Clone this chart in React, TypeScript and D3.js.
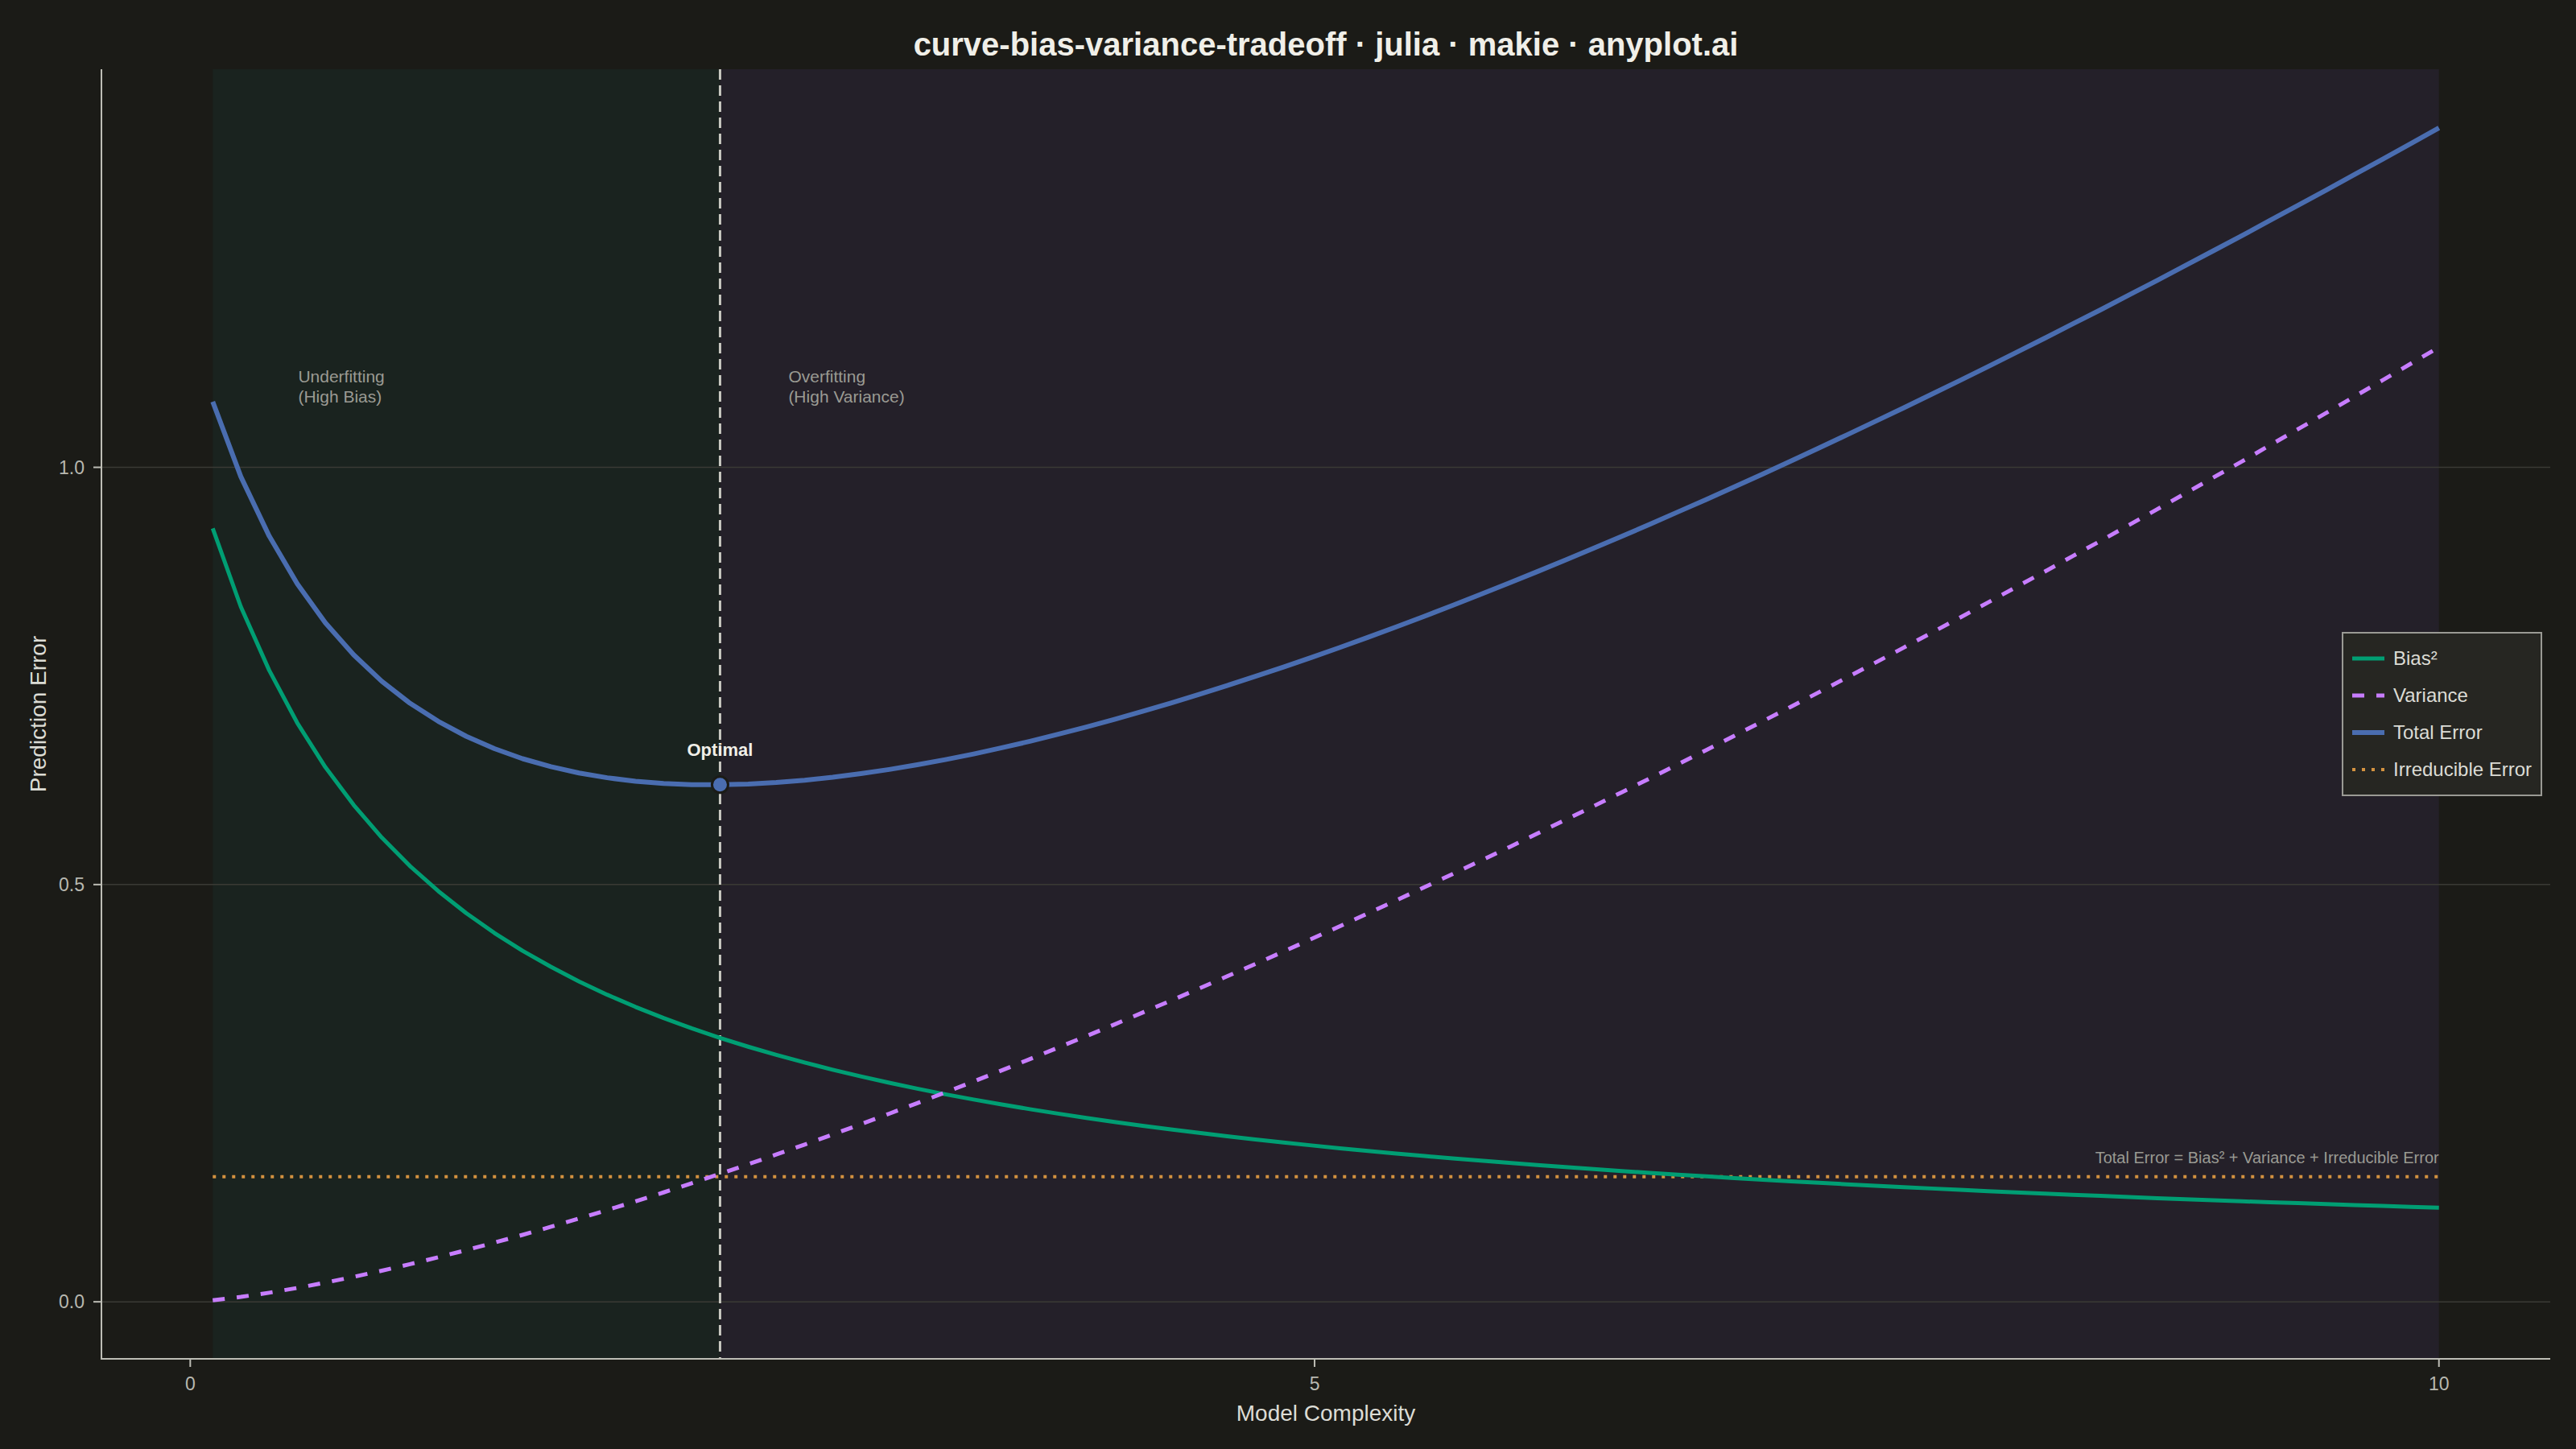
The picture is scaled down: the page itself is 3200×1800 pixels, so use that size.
import React from 'react';
import * as d3 from 'd3';

// model complexity samples (x) and the read-off error components
const complexity = [
  0.1, 0.225, 0.351, 0.476, 0.601, 0.727, 0.852, 0.977, 1.103, 1.228,
  1.353, 1.478, 1.604, 1.729, 1.854, 1.98, 2.105, 2.23, 2.356, 2.481,
  2.606, 2.732, 2.857, 2.982, 3.108, 3.233, 3.358, 3.484, 3.609, 3.734,
  3.859, 3.985, 4.11, 4.235, 4.361, 4.486, 4.611, 4.737, 4.862, 4.987,
  5.113, 5.238, 5.363, 5.489, 5.614, 5.739, 5.865, 5.99, 6.115, 6.241,
  6.366, 6.491, 6.616, 6.742, 6.867, 6.992, 7.118, 7.243, 7.368, 7.494,
  7.619, 7.744, 7.87, 7.995, 8.12, 8.246, 8.371, 8.496, 8.622, 8.747,
  8.872, 8.997, 9.123, 9.248, 9.373, 9.499, 9.624, 9.749, 9.875, 10.0,
];

const biasSq = [
  0.9268, 0.8329, 0.7568, 0.6937, 0.6406, 0.5953, 0.5562, 0.5222, 0.4922, 0.4656,
  0.4419, 0.4206, 0.4014, 0.3839, 0.368, 0.3534, 0.34, 0.3277, 0.3163, 0.3057,
  0.2959, 0.2867, 0.2781, 0.2701, 0.2625, 0.2554, 0.2487, 0.2424, 0.2365, 0.2308,
  0.2255, 0.2204, 0.2155, 0.2109, 0.2066, 0.2024, 0.1984, 0.1946, 0.1909, 0.1874,
  0.184, 0.1808, 0.1777, 0.1747, 0.1719, 0.1691, 0.1665, 0.1639, 0.1614, 0.159,
  0.1567, 0.1545, 0.1524, 0.1503, 0.1482, 0.1463, 0.1444, 0.1426, 0.1408, 0.1391,
  0.1374, 0.1358, 0.1342, 0.1326, 0.1311, 0.1297, 0.1283, 0.1269, 0.1256, 0.1242,
  0.123, 0.1217, 0.1205, 0.1193, 0.1182, 0.1171, 0.1159, 0.1149, 0.1138, 0.1128,
];

const variance = [
  0.0019, 0.0059, 0.0109, 0.0166, 0.023, 0.0299, 0.0373, 0.0451, 0.0534, 0.062,
  0.071, 0.0802, 0.0899, 0.0998, 0.11, 0.1204, 0.1311, 0.1421, 0.1533, 0.1648,
  0.1765, 0.1884, 0.2005, 0.2128, 0.2254, 0.2381, 0.251, 0.2641, 0.2774, 0.2909,
  0.3046, 0.3184, 0.3324, 0.3466, 0.3609, 0.3754, 0.3901, 0.4049, 0.4198, 0.4349,
  0.4502, 0.4656, 0.4811, 0.4969, 0.5127, 0.5287, 0.5448, 0.5611, 0.5775, 0.594,
  0.6106, 0.6273, 0.6442, 0.6612, 0.6784, 0.6956, 0.7131, 0.7305, 0.7482, 0.766,
  0.7838, 0.8018, 0.8199, 0.8381, 0.8565, 0.8749, 0.8935, 0.912, 0.9309, 0.9497,
  0.9688, 0.9878, 1.0069, 1.0264, 1.0457, 1.0652, 1.0848, 1.1043, 1.1242, 1.144,
];

const irreducible = 0.15;

const xTicks = [0, 5, 10];
const yTicks = [0, 0.5, 1.0];

const COLORS = {
  page: '#1b1b17',
  underfit: '#1a231f',
  overfit: '#242029',
  grid: '#3a3a35',
  spine: '#bdbdb5',
  tick: '#b8b8b0',
  label: '#dcdcd5',
  title: '#f0efe8',
  note: '#9a9a93',
  bias: '#009e73',
  variance: '#c77dff',
  total: '#4a6db0',
  irreducible: '#d39240',
  optLine: '#c8c8c0',
  legendBg: '#262622',
  legendBorder: '#9a9a94',
};

const FONT = '"Liberation Sans", Arial, Helvetica, sans-serif';

const App: React.FC = () => {
  const W = 3200;
  const H = 1800;
  const plot = { left: 126, right: 3168, top: 86, bottom: 1688 };

  const total = biasSq.map((b, i) => b + variance[i] + irreducible);
  const optIdx = d3.minIndex(total);
  const optX = complexity[optIdx];
  const optY = total[optIdx];

  const [x0, x1] = d3.extent(complexity) as [number, number];
  const xPad = (x1 - x0) * 0.05;
  const allY = [...biasSq, ...variance, ...total];
  const [y0, y1] = d3.extent(allY) as [number, number];
  const yPad = (y1 - y0) * 0.05;

  const x = d3.scaleLinear().domain([x0 - xPad, x1 + xPad]).range([plot.left, plot.right]);
  const y = d3.scaleLinear().domain([y0 - yPad, y1 + yPad]).range([plot.bottom, plot.top]);

  const line = d3.line<number>()
    .x((_, i) => x(complexity[i]))
    .y(d => y(d));

  const legendItems = [
    { label: 'Bias²', color: COLORS.bias, dash: undefined, width: 5 },
    { label: 'Variance', color: COLORS.variance, dash: '15 15', width: 5 },
    { label: 'Total Error', color: COLORS.total, dash: undefined, width: 6 },
    { label: 'Irreducible Error', color: COLORS.irreducible, dash: '4 8', width: 4 },
  ];
  const legend = { x: 2910, y: 786, w: 247, h: 202, row0: 818, rowGap: 46 };

  return (
    <svg
      width={W}
      height={H}
      style={{ position: 'absolute', left: 0, top: 0, display: 'block', background: COLORS.page }}
      fontFamily={FONT}
    >
      <rect x={0} y={0} width={W} height={H} fill={COLORS.page} />

      {/* regions */}
      <rect x={x(x0)} y={plot.top} width={x(optX) - x(x0)} height={plot.bottom - plot.top} fill={COLORS.underfit} />
      <rect x={x(optX)} y={plot.top} width={x(x1) - x(optX)} height={plot.bottom - plot.top} fill={COLORS.overfit} />

      {/* grid */}
      {yTicks.map(t => (
        <line key={t} x1={plot.left} x2={plot.right} y1={y(t)} y2={y(t)} stroke={COLORS.grid} strokeWidth={1.5} />
      ))}

      {/* irreducible error */}
      <line
        x1={x(x0)} x2={x(x1)} y1={y(irreducible)} y2={y(irreducible)}
        stroke={COLORS.irreducible} strokeWidth={4} strokeDasharray="4 8"
      />

      {/* optimal vertical */}
      <line
        x1={x(optX)} x2={x(optX)} y1={plot.top} y2={plot.bottom}
        stroke={COLORS.optLine} strokeWidth={3} strokeDasharray="13 7"
      />

      <path d={line(biasSq) || ''} fill="none" stroke={COLORS.bias} strokeWidth={5} strokeLinejoin="round" />
      <path d={line(variance) || ''} fill="none" stroke={COLORS.variance} strokeWidth={5} strokeDasharray="15 15" />
      <path d={line(total) || ''} fill="none" stroke={COLORS.total} strokeWidth={6} strokeLinejoin="round" />

      <circle cx={x(optX)} cy={y(optY)} r={10} fill={COLORS.total} stroke={COLORS.page} strokeWidth={3} />
      <text x={x(optX)} y={y(optY) - 36} textAnchor="middle" fontSize={22} fontWeight="bold" fill={COLORS.title}>
        Optimal
      </text>

      {/* region notes */}
      <text fontSize={21} fill={COLORS.note}>
        <tspan x={x(0.48)} y={y(1.102)}>Underfitting</tspan>
        <tspan x={x(0.48)} y={y(1.102) + 25}>(High Bias)</tspan>
      </text>
      <text fontSize={21} fill={COLORS.note}>
        <tspan x={x(2.66)} y={y(1.102)}>Overfitting</tspan>
        <tspan x={x(2.66)} y={y(1.102) + 25}>(High Variance)</tspan>
      </text>
      <text x={x(x1)} y={y(irreducible) - 17} textAnchor="end" fontSize={20} fill={COLORS.note}>
        Total Error = Bias² + Variance + Irreducible Error
      </text>

      {/* axes */}
      <line x1={plot.left} x2={plot.left} y1={plot.top} y2={plot.bottom + 1} stroke={COLORS.spine} strokeWidth={2} />
      <line x1={plot.left - 1} x2={plot.right} y1={plot.bottom} y2={plot.bottom} stroke={COLORS.spine} strokeWidth={2} />
      {xTicks.map(t => (
        <g key={t}>
          <line x1={x(t)} x2={x(t)} y1={plot.bottom} y2={plot.bottom + 10} stroke={COLORS.spine} strokeWidth={2} />
          <text x={x(t)} y={plot.bottom + 39} textAnchor="middle" fontSize={23} fill={COLORS.tick}>{t}</text>
        </g>
      ))}
      {yTicks.map(t => (
        <g key={t}>
          <line x1={plot.left - 10} x2={plot.left} y1={y(t)} y2={y(t)} stroke={COLORS.spine} strokeWidth={2} />
          <text x={plot.left - 21} y={y(t) + 8} textAnchor="end" fontSize={23} fill={COLORS.tick}>{t.toFixed(1)}</text>
        </g>
      ))}

      <text x={(plot.left + plot.right) / 2} y={1765} textAnchor="middle" fontSize={28} fill={COLORS.label}>
        Model Complexity
      </text>
      <text
        transform={`translate(47, ${(plot.top + plot.bottom) / 2}) rotate(-90)`}
        textAnchor="middle" dy="0.35em" fontSize={28} fill={COLORS.label}
      >
        Prediction Error
      </text>

      <text x={(plot.left + plot.right) / 2} y={69} textAnchor="middle" fontSize={40} fontWeight="bold" fill={COLORS.title}>
        curve-bias-variance-tradeoff · julia · makie · anyplot.ai
      </text>

      {/* legend */}
      <rect x={legend.x} y={legend.y} width={legend.w} height={legend.h} fill={COLORS.legendBg} stroke={COLORS.legendBorder} strokeWidth={2} />
      {legendItems.map((item, i) => {
        const ry = legend.row0 + i * legend.rowGap;
        return (
          <g key={item.label}>
            <line x1={2922} x2={2962} y1={ry} y2={ry} stroke={item.color} strokeWidth={item.width} strokeDasharray={item.dash} />
            <text x={2973} y={ry + 8} fontSize={24} fill={COLORS.label}>{item.label}</text>
          </g>
        );
      })}
    </svg>
  );
};

export default App;
